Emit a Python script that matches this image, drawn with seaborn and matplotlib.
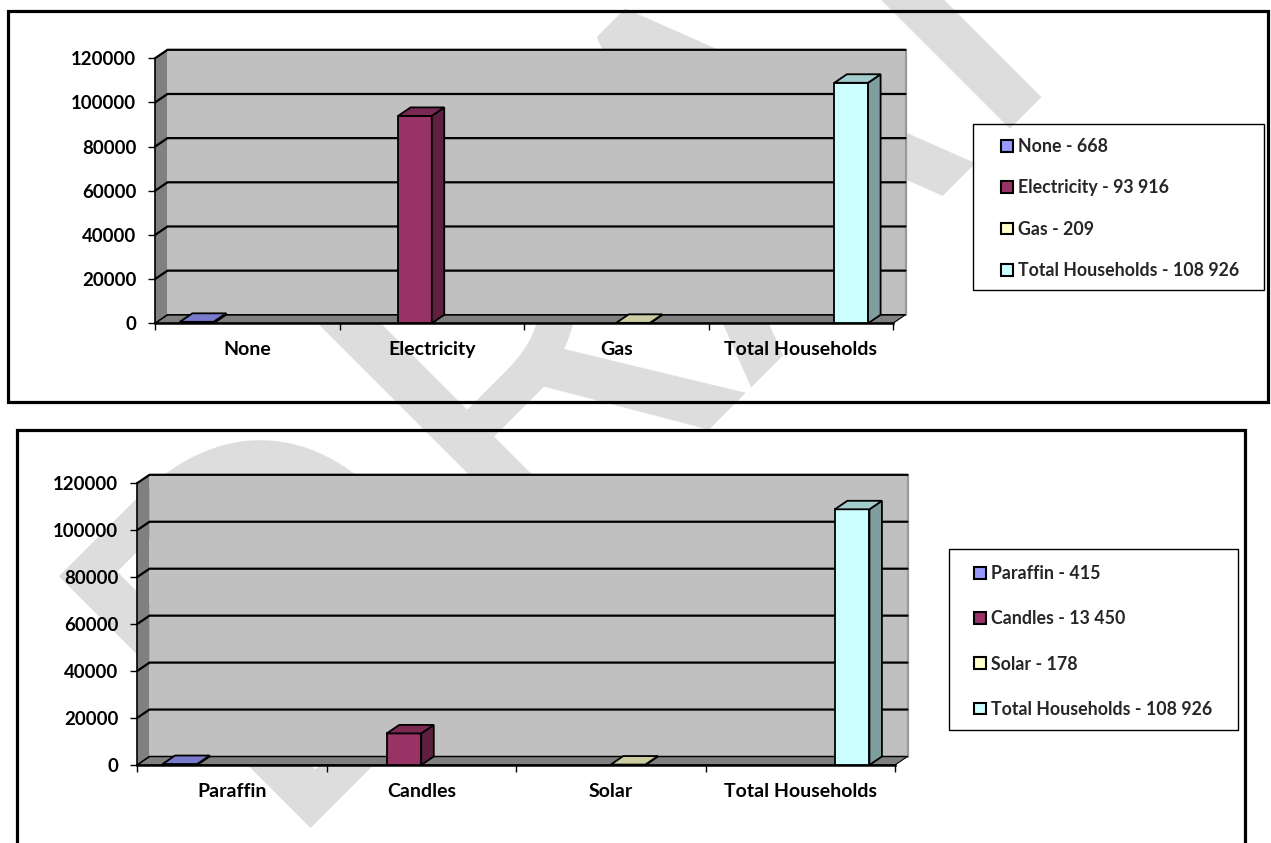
import matplotlib
matplotlib.use("Agg")
import matplotlib.pyplot as plt
from matplotlib.patches import Polygon, Rectangle, Patch
from matplotlib.colors import to_rgb
import seaborn as sns

# Households by energy source (number of households)
top_categories = ["None", "Electricity", "Gas", "Total Households"]
top_values = [668, 93916, 209, 108926]

bottom_categories = ["Paraffin", "Candles", "Solar", "Total Households"]
bottom_values = [415, 13450, 178, 108926]

y_ticks = [0, 20000, 40000, 60000, 80000, 100000, 120000]
series_colors = ["#9999FF", "#993366", "#FFFFCC", "#CCFFFF"]

W, H = 1271, 843
sns.set_theme(style="white")
plt.rcParams["font.family"] = ["Lato", "DejaVu Sans"]
plt.rcParams["font.weight"] = "bold"

fig = plt.figure(figsize=(W / 100, H / 100), dpi=100)
fig.patch.set_facecolor("white")


def fx(px):
    return px / W


def fy(py):
    return 1 - py / H


def shade(color, k):
    r, g, b = to_rgb(color)
    return (r * k, g * k, b * k)


def fmt(v):
    return f"{v:,}".replace(",", " ")


# background watermark
fig.text(fx(262), fy(828), "DRAFT", rotation=45, rotation_mode="anchor",
         ha="left", va="baseline", fontsize=358, fontweight="normal",
         family=["Noto Sans", "DejaVu Sans"], color="#dddddd", zorder=-5)

DEPTH_X, DEPTH_Y = 12.5, 8.5  # pixel depth of the pseudo-3D walls and bars
XLABEL_SIZE = 14
YLABEL_SIZE = 13.4
LEGEND_SIZE = 12.8


def draw_panel(categories, values, frame, front, legend_pos, row_gap, legend_frame):
    fl, ft, fr, fb = frame
    fig.add_artist(Rectangle((fx(fl), fy(fb)), (fr - fl) / W, (fb - ft) / H,
                             transform=fig.transFigure, fill=False,
                             edgecolor="black", linewidth=2.3, zorder=10))

    l, t, r, b = front
    ax = fig.add_axes([fx(l), fy(b), (r - l) / W, (b - t) / H])
    sns.barplot(x=categories, y=values, hue=categories, order=categories,
                hue_order=categories, palette=series_colors, dodge=True,
                width=0.73, saturation=1, edgecolor="black", linewidth=1.3,
                legend=False, ax=ax)
    ax.set_xlim(-0.5, 3.5)
    ax.set_ylim(0, 120000)
    ax.set_facecolor("none")
    ax.set_xlabel("")
    ax.set_ylabel("")

    ddx = DEPTH_X * 4 / (r - l)
    ddy = DEPTH_Y * 120000 / (b - t)
    x0, x1 = -0.5, 3.5
    ytop = y_ticks[-1]

    # back wall, side wall and floor
    ax.add_patch(Rectangle((x0 + ddx, ddy), x1 - x0, ytop, facecolor="#C0C0C0",
                           edgecolor="none", zorder=0.5, clip_on=False))
    ax.add_patch(Polygon([(x0, 0), (x0 + ddx, ddy), (x0 + ddx, ytop + ddy), (x0, ytop)],
                         closed=True, facecolor="#808080", edgecolor="none",
                         zorder=0.6, clip_on=False))
    ax.add_patch(Polygon([(x0, 0), (x1, 0), (x1 + ddx, ddy), (x0 + ddx, ddy)],
                         closed=True, facecolor="#808080", edgecolor="black",
                         linewidth=0.8, zorder=0.7, clip_on=False))
    ax.plot([x1 + ddx, x1 + ddx], [ddy, ytop + ddy], color="#9a9a9a", lw=1.6,
            zorder=0.8, clip_on=False)
    for v in y_ticks:
        ax.plot([x0, x0 + ddx, x1 + ddx], [v, v + ddy, v + ddy], color="black",
                lw=1.6 if v else 1.0, zorder=0.9, clip_on=False,
                solid_joinstyle="miter")

    # pseudo-3D faces on each bar
    for p in list(ax.patches):
        if not isinstance(p, Rectangle) or p.get_zorder() < 1:
            continue
        h = p.get_height()
        if h != h or p.get_width() <= 0:
            continue
        bx, bw = p.get_x(), p.get_width()
        fc = p.get_facecolor()[:3]
        p.set_zorder(3)
        ax.add_patch(Polygon([(bx + bw, 0), (bx + bw + ddx, ddy), (bx + bw + ddx, h + ddy), (bx + bw, h)],
                             closed=True, facecolor=shade(fc, 0.62), edgecolor="black",
                             linewidth=1.3, zorder=3, clip_on=False))
        ax.add_patch(Polygon([(bx, h), (bx + ddx, h + ddy), (bx + bw + ddx, h + ddy), (bx + bw, h)],
                             closed=True, facecolor=shade(fc, 0.8), edgecolor="black",
                             linewidth=1.3, zorder=3, clip_on=False))

    for side in ("top", "right"):
        ax.spines[side].set_visible(False)
    ax.spines["left"].set_color("black")
    ax.spines["left"].set_linewidth(1.2)
    ax.spines["bottom"].set_color("black")
    ax.spines["bottom"].set_linewidth(1.8)
    ax.spines["bottom"].set_zorder(2.5)

    ax.set_yticks(y_ticks)
    ax.set_yticklabels([str(v) for v in y_ticks])
    ax.tick_params(axis="y", left=True, direction="out", length=5, width=1,
                   color="black", pad=8.5, labelsize=YLABEL_SIZE, labelcolor="black")
    ax.set_xticks(range(len(categories)))
    ax.set_xticklabels(categories)
    ax.tick_params(axis="x", which="major", length=0, pad=13, labelsize=XLABEL_SIZE,
                   labelcolor="black")
    ax.set_xticks([i - 0.5 for i in range(len(categories) + 1)], minor=True)
    ax.tick_params(axis="x", which="minor", bottom=True, direction="out",
                   length=5, width=1, color="black")

    handles = [Patch(facecolor=c, edgecolor="black", linewidth=1.5) for c in series_colors]
    labels = [f"{c} - {fmt(v)}" for c, v in zip(categories, values)]
    fig.legend(handles, labels, loc="upper left",
               bbox_to_anchor=(fx(legend_pos[0]), fy(legend_pos[1])),
               frameon=False, borderpad=0, borderaxespad=0, handlelength=0.65,
               handleheight=0.65, handletextpad=0.3, labelspacing=row_gap,
               prop={"weight": "bold", "size": LEGEND_SIZE})
    ll, lt, lr, lb = legend_frame
    fig.add_artist(Rectangle((fx(ll), fy(lb)), (lr - ll) / W, (lb - lt) / H,
                             transform=fig.transFigure, fill=False,
                             edgecolor="black", linewidth=1.0, zorder=10))
    return ax


draw_panel(top_categories, top_values, frame=(8, 11, 1268, 402),
           front=(155, 58.3, 893, 323.3), legend_pos=(1001, 138), row_gap=1.37,
           legend_frame=(973, 124, 1264, 290))
draw_panel(bottom_categories, bottom_values, frame=(17, 430, 1245, 870),
           front=(137, 483.3, 895, 765), legend_pos=(974, 565), row_gap=1.59,
           legend_frame=(949, 549, 1238, 730))

fig.savefig("out.png", dpi=100, facecolor="white")
